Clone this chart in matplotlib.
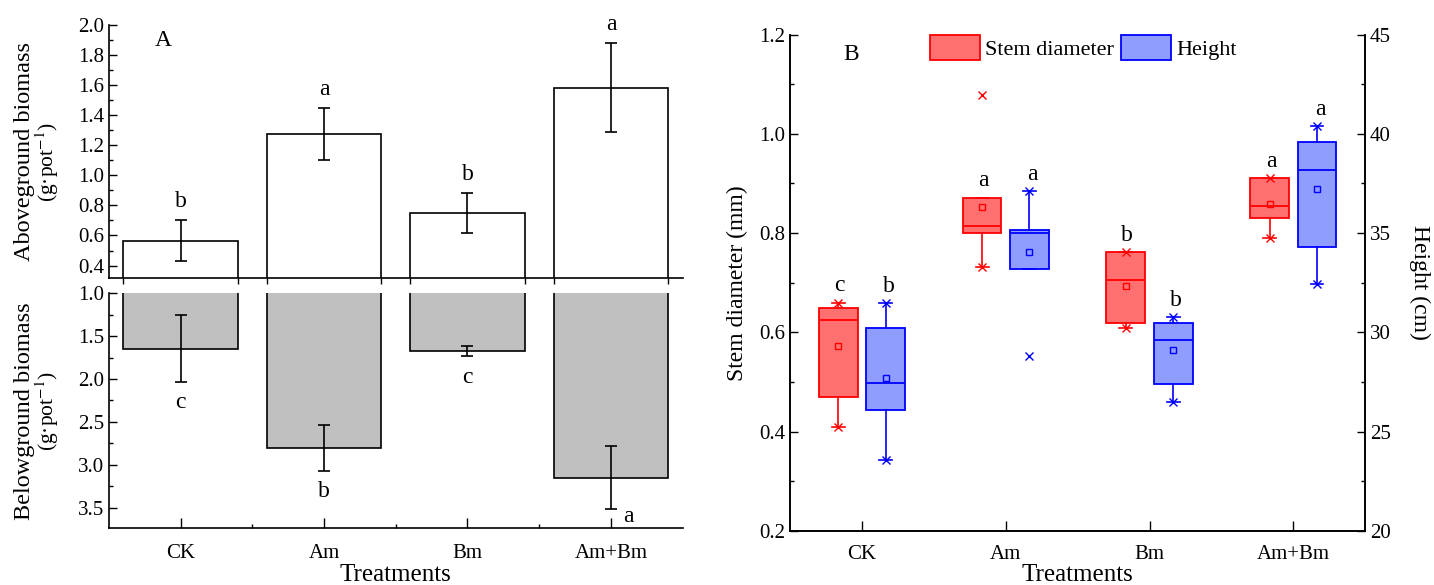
import matplotlib
matplotlib.use("Agg")
import matplotlib.pyplot as plt
import numpy as np
from matplotlib.patches import Patch

plt.rcParams['font.family'] = ['Liberation Serif', 'DejaVu Serif']
plt.rcParams['mathtext.fontset'] = 'stix'

treatments = ['CK', 'Am', 'Bm', 'Am+Bm']

# Panel A: biomass (g/pot), mean and error
above_mean = [0.565, 1.275, 0.75, 1.585]
above_err = [0.135, 0.175, 0.133, 0.295]
above_letters = ['b', 'a', 'b', 'a']
below_mean = [1.645, 2.80, 1.675, 3.15]
below_err = [0.39, 0.27, 0.06, 0.37]
below_letters = ['c', 'b', 'c', 'a']

# Panel B: stem diameter (mm) box statistics
stem_q1 = [0.469, 0.80, 0.619, 0.830]
stem_med = [0.624, 0.815, 0.706, 0.854]
stem_q3 = [0.650, 0.870, 0.761, 0.910]
stem_mean = [0.573, 0.852, 0.694, 0.859]
stem_whislo = [0.410, 0.731, 0.609, 0.791]
stem_whishi = [0.660, 0.870, 0.761, 0.910]
stem_min = [0.410, 0.731, 0.609, 0.791]
stem_max = [0.660, 1.079, 0.761, 0.910]
stem_letters = ['c', 'a', 'b', 'a']

# Panel B: height (cm) box statistics
h_q1 = [26.1, 33.2, 27.4, 34.3]
h_med = [27.45, 35.0, 29.6, 38.2]
h_q3 = [30.2, 35.17, 30.46, 39.58]
h_mean = [27.7, 34.07, 29.1, 37.2]
h_whislo = [23.6, 33.2, 26.5, 32.45]
h_whishi = [31.5, 37.1, 30.8, 40.4]
h_min = [23.6, 28.8, 26.5, 32.45]
h_max = [31.5, 37.1, 30.8, 40.4]
h_letters = ['b', 'a', 'b', 'a']

x = np.arange(len(treatments))
bw = 0.8

fig = plt.figure(figsize=(14.34, 5.85), dpi=100)

# ---------- Panel A top ----------
ax1 = fig.add_axes([0.076, 0.524, 0.400, 0.433])
ax1.bar(x, above_mean, width=bw, color='white', edgecolor='black', linewidth=1.2)
ax1.errorbar(x, above_mean, yerr=above_err, fmt='none', ecolor='black',
             elinewidth=1.2, capsize=4, capthick=1.2)
for xi, m, e, l in zip(x, above_mean, above_err, above_letters):
    ax1.text(xi, m + e + 0.055, l, ha='center', va='bottom', fontsize=17)
ax1.set_xlim(-0.5, 3.5)
ax1.set_ylim(0.314, 2.0)
ax1.set_yticks(np.arange(0.4, 2.01, 0.2))
ax1.set_yticks(np.arange(0.5, 2.0, 0.2), minor=True)
ax1.set_yticklabels([f'{v:.1f}' for v in np.arange(0.4, 2.01, 0.2)])
edges = np.sort(np.concatenate([x - bw / 2, x + bw / 2]))
ax1.set_xticks(edges)
ax1.set_xticklabels([])
ax1.tick_params(axis='x', direction='out', length=4, width=1)
ax1.tick_params(axis='y', which='major', direction='in', length=5.5, width=1, labelsize=15)
ax1.tick_params(axis='y', which='minor', direction='in', length=3, width=1)
for s in ['top', 'right']:
    ax1.spines[s].set_visible(False)
for s in ['left', 'bottom']:
    ax1.spines[s].set_linewidth(1.2)
ax1.text(0.094, 0.938, 'A', transform=ax1.transAxes, fontsize=17, ha='center', va='center')
ax1.text(-0.148, 0.5, 'Aboveground biomass', transform=ax1.transAxes, rotation=90,
         ha='center', va='center', fontsize=17.5)
ax1.text(-0.108, 0.46, r'(g·pot$^{-1}$)', transform=ax1.transAxes, rotation=90,
         ha='center', va='center', fontsize=15.5)

# ---------- Panel A bottom ----------
ax2 = fig.add_axes([0.076, 0.097, 0.400, 0.4016])
ax2.bar(x, below_mean, width=bw, color='#C0C0C0', edgecolor='black', linewidth=1.2)
ax2.errorbar(x, below_mean, yerr=below_err, fmt='none', ecolor='black',
             elinewidth=1.2, capsize=4, capthick=1.2)
for xi, m, e, l in zip(x[:3], below_mean[:3], below_err[:3], below_letters[:3]):
    ax2.text(xi, m + e + 0.12, l, ha='center', va='top', fontsize=17)
ax2.text(x[3] + 0.125, below_mean[3] + below_err[3] + 0.08, below_letters[3],
         ha='center', va='center', fontsize=17)
ax2.set_xlim(-0.5, 3.5)
ax2.set_ylim(3.74, 1.0)
ax2.set_yticks(np.arange(1.0, 3.51, 0.5))
ax2.set_yticks(np.arange(1.25, 3.74, 0.5), minor=True)
ax2.set_xticks(x)
ax2.set_xticks(x[:-1] + 0.5, minor=True)
ax2.set_xticklabels(treatments)
ax2.tick_params(axis='x', which='major', direction='in', length=7, width=1, labelsize=15, pad=11)
ax2.tick_params(axis='x', which='minor', direction='in', length=3, width=1)
ax2.tick_params(axis='y', which='major', direction='in', length=5.5, width=1, labelsize=15)
ax2.tick_params(axis='y', which='minor', direction='in', length=3, width=1)
for s in ['top', 'right']:
    ax2.spines[s].set_visible(False)
for s in ['left', 'bottom']:
    ax2.spines[s].set_linewidth(1.2)
ax2.set_xlabel('Treatments', fontsize=18, labelpad=1)
ax2.text(-0.148, 0.5, 'Belowground biomass', transform=ax2.transAxes, rotation=90,
         ha='center', va='center', fontsize=17.5)
ax2.text(-0.108, 0.5, r'(g·pot$^{-1}$)', transform=ax2.transAxes, rotation=90,
         ha='center', va='center', fontsize=15.5)

# ---------- Panel B ----------
red_face, red_edge = '#FF7070', '#FF0000'
blue_face, blue_edge = '#8F9DFF', '#0000FF'
off = 0.165
boxw = 0.27

ax3 = fig.add_axes([0.551, 0.0923, 0.401, 0.8487])
ax4 = ax3.twinx()


def draw_boxes(ax, pos, q1, med, q3, mean, wlo, whi, vmin, vmax, face, edge):
    stats = [dict(q1=a, med=b, q3=c, mean=d, whislo=e, whishi=f, fliers=[])
             for a, b, c, d, e, f in zip(q1, med, q3, mean, wlo, whi)]
    ax.bxp(stats, positions=pos, widths=boxw, patch_artist=True, showmeans=True,
           capwidths=0.09, manage_ticks=False,
           boxprops=dict(facecolor=face, edgecolor=edge, linewidth=1.3),
           medianprops=dict(color=edge, linewidth=1.3),
           whiskerprops=dict(color=edge, linewidth=1.2),
           capprops=dict(color=edge, linewidth=1.2),
           meanprops=dict(marker='s', markerfacecolor='none', markeredgecolor=edge,
                          markersize=5, markeredgewidth=1))
    ax.plot(pos, vmin, linestyle='none', marker='x', color=edge, markersize=6, mew=1)
    ax.plot(pos, vmax, linestyle='none', marker='x', color=edge, markersize=6, mew=1)


draw_boxes(ax3, x - off, stem_q1, stem_med, stem_q3, stem_mean, stem_whislo, stem_whishi,
           stem_min, stem_max, red_face, red_edge)
draw_boxes(ax4, x + off, h_q1, h_med, h_q3, h_mean, h_whislo, h_whishi,
           h_min, h_max, blue_face, blue_edge)

for xi, t, l in zip(x - off, stem_whishi, stem_letters):
    ax3.text(xi + 0.01, t + 0.014, l, ha='center', va='bottom', fontsize=17)
for xi, t, l in zip(x + off, h_max, h_letters):
    ax4.text(xi + 0.02, t + 0.3, l, ha='center', va='bottom', fontsize=17)

ax3.set_xlim(-0.5, 3.5)
ax3.set_ylim(0.2, 1.2)
ax4.set_ylim(20, 45)
ax3.set_xticks(x)
ax3.set_xticklabels(treatments)
ax3.set_yticks(np.arange(0.2, 1.21, 0.2))
ax3.set_yticks(np.arange(0.3, 1.2, 0.2), minor=True)
ax3.set_yticklabels([f'{v:.1f}' for v in np.arange(0.2, 1.21, 0.2)])
ax4.set_yticks(np.arange(20, 46, 5))
ax4.set_yticks(np.arange(22.5, 45, 5), minor=True)
ax3.tick_params(axis='x', direction='in', length=7, width=1, labelsize=15, pad=10)
ax3.tick_params(axis='y', which='major', direction='in', length=5.5, width=1, labelsize=15)
ax3.tick_params(axis='y', which='minor', direction='in', length=3, width=1)
ax4.tick_params(axis='y', which='major', direction='in', length=5.5, width=1, labelsize=15)
ax4.tick_params(axis='y', which='minor', direction='in', length=3, width=1)
for a in (ax3, ax4):
    a.spines['top'].set_visible(False)
    for s in ['left', 'bottom', 'right']:
        a.spines[s].set_linewidth(1.2)
ax3.set_xlabel('Treatments', fontsize=18, labelpad=0)
ax3.set_ylabel('Stem diameter (mm)', fontsize=17, labelpad=8)
ax4.set_ylabel('Height (cm)', fontsize=17, rotation=270, labelpad=28)
ax3.text(0.106, 0.959, 'B', transform=ax3.transAxes, fontsize=17, ha='center', va='center')

handles = [Patch(facecolor=red_face, edgecolor=red_edge, linewidth=1.3),
           Patch(facecolor=blue_face, edgecolor=blue_edge, linewidth=1.3)]
ax3.legend(handles, ['Stem diameter', 'Height'], loc='upper center', ncol=2,
           frameon=False, fontsize=16, handlelength=2.25, handleheight=1.35,
           handletextpad=0.25, columnspacing=0.3, bbox_to_anchor=(0.51, 1.003),
           borderaxespad=0.0, borderpad=0.1)

plt.savefig('out.png', dpi=100)
